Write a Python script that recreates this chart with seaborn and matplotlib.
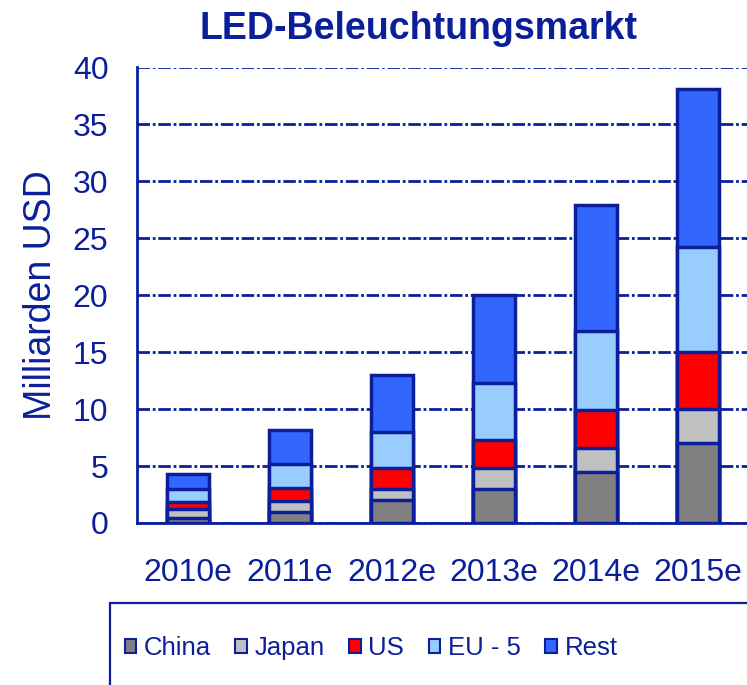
import matplotlib
matplotlib.use("Agg")
import matplotlib.pyplot as plt
import seaborn as sns
import pandas as pd
import numpy as np
from matplotlib.patches import Patch, Rectangle

# DATA (Milliarden USD)
years = ["2010e", "2011e", "2012e", "2013e", "2014e", "2015e"]
china = [0.4, 0.95, 2.0, 3.0, 4.5, 7.0]
japan = [0.8, 1.0, 1.0, 1.8, 2.1, 3.0]
us = [0.65, 1.15, 1.85, 2.5, 3.3, 5.0]
eu5 = [1.15, 2.05, 3.15, 5.0, 7.0, 9.2]
rest = [1.3, 3.05, 5.0, 7.7, 11.0, 13.9]
segments = ["China", "Japan", "US", "EU - 5", "Rest"]

# STYLE
NAVY = "#0B1F9A"
COLORS = ["#808080", "#C0C0C0", "#FF0000", "#99CCFF", "#3366FF"]

sns.set_style("white")
plt.rcParams["font.family"] = ["Liberation Sans", "DejaVu Sans"]

df = pd.DataFrame({"year": years, "China": china, "Japan": japan,
                   "US": us, "EU - 5": eu5, "Rest": rest})
cum = df[segments].cumsum(axis=1)

fig = plt.figure(figsize=(7.47, 6.85), dpi=100)
ax = fig.add_axes([137 / 747, 162 / 685, 612 / 747, 455.5 / 685])

# stacked bars: draw cumulative totals from the top segment down
for seg, color in reversed(list(zip(segments, COLORS))):
    sns.barplot(x=df["year"], y=cum[seg], color=color, width=0.41,
                edgecolor=NAVY, linewidth=2.5, saturation=1, ax=ax, zorder=3)

ax.set_ylim(0, 40)
ax.set_xlim(-0.5, 5.5)
ax.set_yticks(np.arange(0, 41, 5))
ax.yaxis.grid(True, color=NAVY, linewidth=2, linestyle=(0, (4.5, 1, 1, 1)))
ax.set_axisbelow(True)

for s in ["top", "right"]:
    ax.spines[s].set_visible(False)
for s in ["left", "bottom"]:
    ax.spines[s].set_color(NAVY)
    ax.spines[s].set_linewidth(2)

ax.tick_params(axis="y", colors=NAVY, labelsize=23, length=8.6, width=2, pad=12)
ax.tick_params(axis="x", which="major", colors=NAVY, labelsize=23, length=0, pad=25)
ax.set_xticks(np.arange(-0.5, 5.0, 1.0), minor=True)
ax.tick_params(axis="x", which="minor", colors=NAVY, length=7.5, width=2)

ax.set_xlabel("")
ax.set_ylabel("Milliarden USD", fontsize=27, color=NAVY, labelpad=10)

fig.text(418 / 747, 1 - 29 / 685, "LED-Beleuchtungsmarkt", ha="center", va="center",
         fontsize=27, fontweight="bold", color=NAVY)

# legend box, open to the right and bottom
fig.patches.append(Rectangle((110 / 747, -0.05), 1.0, 0.05 + 82 / 685,
                             transform=fig.transFigure, fill=False,
                             edgecolor=NAVY, linewidth=1.6))
handles = [Patch(facecolor=c, edgecolor=NAVY, linewidth=1.5) for c in COLORS]
fig.legend(handles, segments, ncol=5, loc="center", bbox_to_anchor=(371 / 747, 37 / 685),
           frameon=False, fontsize=18.5, labelcolor=NAVY, handlelength=0.45,
           handleheight=0.45, handletextpad=0.3, columnspacing=0.95)

plt.savefig("out.png", dpi=100)
plt.close()
